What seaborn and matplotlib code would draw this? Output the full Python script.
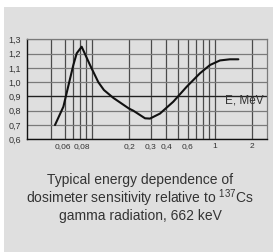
import seaborn as sns
import matplotlib.pyplot as plt
import matplotlib.ticker as mticker
import matplotlib.transforms as mtransforms
from matplotlib.patches import Rectangle
import pandas as pd

# energy, MeV and relative sensitivity
energy = [0.050, 0.0585, 0.0654, 0.0705, 0.0751, 0.0824, 0.0963, 0.1125,
          0.125, 0.149, 0.200, 0.217, 0.270, 0.296, 0.357, 0.458, 0.589,
          0.755, 0.911, 1.098, 1.324, 1.55]
sensitivity = [0.70, 0.828, 1.003, 1.12, 1.202, 1.248, 1.12, 1.0,
               0.945, 0.89, 0.815, 0.80, 0.747, 0.745, 0.78, 0.863, 0.968,
               1.062, 1.12, 1.152, 1.16, 1.16]

major_ticks = [0.06, 0.08, 0.2, 0.3, 0.4, 0.6, 1, 2]
major_labels = ["0,06", "0,08", "0,2", "0,3", "0,4", "0,6", "1", "2"]
minor_ticks = [0.046, 0.07, 0.09, 0.1, 0.5, 0.7, 0.8, 0.9]
y_ticks = [0.6, 0.7, 0.8, 0.9, 1.0, 1.1, 1.2, 1.3]
y_labels = ["0,6", "0,7", "0,8", "0,9", "1,0", "1,1", "1,2", "1,3"]

title_lines = ["Typical energy dependence of",
               r"dosimeter sensitivity relative to $\mathregular{^{137}}$Cs",
               "gamma radiation, 662 keV"]

bg = "#dfdfdf"

sns.set_theme(style="white")
plt.rcParams['font.family'] = ['Liberation Sans', 'DejaVu Sans']
plt.rcParams['mathtext.fontset'] = 'custom'
plt.rcParams['mathtext.rm'] = 'Liberation Sans'

fig = plt.figure(figsize=(2.73, 2.52), dpi=100, facecolor="white")
fig.patches.append(Rectangle((4 / 273, 0), 1, 1 - 7 / 252, transform=fig.transFigure,
                             facecolor=bg, edgecolor="none", zorder=-5))

ax = fig.add_axes([27 / 273, 1 - 139.3 / 252, 240 / 273, 100 / 252])
ax.set_facecolor(bg)
ax.set_zorder(2)

df = pd.DataFrame({"E": energy, "S": sensitivity})
sns.lineplot(data=df, x="E", y="S", ax=ax, color="#111111", linewidth=1.5, zorder=5)

ax.set_xscale("log")
ax.set_xlim(0.0296, 2.65)
ax.set_ylim(0.6, 1.3)

ax.xaxis.set_major_locator(mticker.FixedLocator(major_ticks))
ax.xaxis.set_major_formatter(mticker.FixedFormatter(major_labels))
ax.xaxis.set_minor_locator(mticker.FixedLocator(minor_ticks))
ax.xaxis.set_minor_formatter(mticker.NullFormatter())
ax.set_yticks(y_ticks)
ax.set_yticklabels(y_labels)

ax.tick_params(axis="x", which="both", length=0, labelsize=6, pad=2.5, colors="#333333")
ax.tick_params(axis="y", length=3.5, width=0.8, color="#222222", labelsize=6.5, pad=0.8,
               labelcolor="#333333")

# nudge the two crowded labels apart a little
fig.canvas.draw()
xlabels = ax.get_xticklabels()
for lbl, dx in [(xlabels[0], -1.5), (xlabels[1], 1.5)]:
    lbl.set_transform(lbl.get_transform() +
                      mtransforms.ScaledTranslation(dx / 100, 0, fig.dpi_scale_trans))

ax.grid(True, which="both", axis="x", color="#4a4a4a", linewidth=0.9)
ax.grid(True, axis="y", color="#7a7a7a", linewidth=0.9)
ax.axhline(0.9, color="#222222", linewidth=0.9, zorder=2)
ax.set_axisbelow(True)

for side in ["left", "bottom"]:
    ax.spines[side].set_color("#111111")
    ax.spines[side].set_linewidth(1.0)
for side in ["top", "right"]:
    ax.spines[side].set_color("#7a7a7a")
    ax.spines[side].set_linewidth(0.9)

ax.set_xlabel("")
ax.set_ylabel("")
ax.text(2.5, 0.872, "E, MeV", ha="right", va="center", fontsize=8.5, color="#333333")

for i, line in enumerate(title_lines):
    fig.text(140 / 273, 1 - (180 + 18 * i) / 252, line, ha="center", va="center",
             fontsize=10, color="#333333")

fig.savefig("out.png", dpi=100, facecolor=fig.get_facecolor())
